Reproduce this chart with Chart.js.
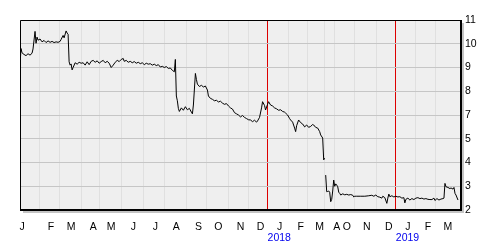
<!DOCTYPE html>
<html>
<head>
<meta charset="utf-8">
<script src="https://cdn.jsdelivr.net/npm/chart.js@4/dist/chart.umd.min.js"></script>
<style>
  html, body { margin: 0; padding: 0; background: #fff; }
  #chart { display: block; }
</style>
</head>
<body>
<canvas id="chart" width="500" height="250"></canvas>
<script>
// months shown on the time axis (Apr-Sep 2018 missing: trading halt)
const monthLabels = ['J','F','M','A','M','J','J','A','S','O','N','D','J','F','M','A','O','N','D','J','F','M'];
// trading days per month on the axis
const monthDays = [19,20,22,18,22,22,21,22,20,22,20,19,21,19,17,10,20,22,19,20,20,25];
const yearLabels = ['2018','2019'];
const yearFirstMonth = [12, 19];
// y tick labels, the axis skips 6
const yTickLabels = ['2','3','4','5','7','8','9','10','11'];

// trading day index and price level (on the axis grid, 2..10)
const days = [0,1,2,4,6,8,10,12,13,15,16,17,18,20,22,24,26,28,30,32,34,36,38,40,41,43,44,46,47,48,
  49,50,51,52,53,55,57,59,61,63,65,67,69,71,73,75,77,79,81,83,85,87,89,91,93,95,97,99,101,103,104,
  106,108,110,112,114,116,118,120,122,124,126,128,130,132,134,136,138,140,142,144,146,148,150,152,154,
  155,156,157,158,159,161,163,165,167,169,171,172,173,175,176,177,179,181,183,185,187,188,190,192,194,
  196,198,200,202,204,206,208,210,212,214,216,218,220,222,224,226,228,230,232,234,236,237,239,241,242,
  244,245,247,248,250,252,254,256,258,260,262,264,265,267,269,270,272,274,275,276,278,280,282,284,286,
  288,290,292,293,295,297,299,300,302,303,304,304.5,305,306,307,308,309,310,311,312,313,314,315,316,317,
  318,319,320,322,324,326,328,330,332,333,334,336,340,344,348,351,353,355,357,359,361,362,364,366,367,
  368,369,371,373,375,377,379,381,383,384,385,387,389,391,393,395,397,399,401,403,405,407,409,411,413,
  414,416,418,420,422,423,424,425,427,429,430,432,433,434,435,437];
const level = [8.10,8.80,8.62,8.55,8.50,8.58,8.52,8.60,8.78,9.52,9.02,9.28,9.15,9.20,9.08,9.14,9.05,9.12,9.06,9.10,9.05,9.08,9.06,9.10,9.18,9.35,9.25,9.54,9.45,9.40,
  8.24,8.10,8.15,7.90,8.00,8.20,8.14,8.22,8.18,8.20,8.10,8.24,8.12,8.26,8.30,8.22,8.28,8.18,8.25,8.30,8.20,8.26,8.18,8.00,8.10,8.22,8.30,8.25,8.34,8.38,8.26,
  8.30,8.22,8.26,8.20,8.25,8.18,8.22,8.16,8.20,8.12,8.18,8.14,8.16,8.10,8.14,8.08,8.12,8.02,8.05,8.00,8.04,7.96,7.98,7.88,7.82,
  8.34,6.80,6.60,6.28,6.15,6.30,6.20,6.35,6.22,6.28,6.12,6.05,6.42,7.75,7.50,7.30,7.20,7.25,7.18,7.22,7.05,6.80,6.70,6.66,6.60,
  6.62,6.55,6.58,6.50,6.45,6.48,6.38,6.30,6.25,6.10,6.05,6.00,5.92,5.98,5.90,5.85,5.80,5.79,5.72,5.78,5.70,5.75,5.90,6.30,6.56,
  6.40,6.21,6.45,6.56,6.42,6.38,6.30,6.26,6.20,6.22,6.15,6.12,6.08,6.00,5.85,5.79,5.70,5.45,5.30,5.55,5.79,5.68,5.62,5.50,5.58,
  5.48,5.52,5.60,5.58,5.48,5.45,5.30,5.16,5.03,4.11,4.18,null,3.47,2.77,2.78,2.80,2.75,2.35,2.45,2.80,3.26,3.00,3.10,3.05,2.98,
  2.75,2.70,2.63,2.68,2.64,2.66,2.63,2.65,2.62,2.55,2.58,2.58,2.58,2.58,2.60,2.62,2.58,2.63,2.56,2.54,2.50,2.58,2.52,2.28,2.50,
  2.67,2.56,2.60,2.55,2.58,2.55,2.56,2.50,2.52,2.30,2.45,2.50,2.42,2.48,2.44,2.50,2.52,2.48,2.50,2.46,2.48,2.45,2.44,2.44,2.50,
  2.40,2.48,2.42,2.46,2.48,2.50,3.12,2.98,2.95,2.90,2.93,2.88,2.95,2.70,2.63,2.42];

// month boundaries in trading days
const monthEdges = [0];
monthDays.forEach(d => monthEdges.push(monthEdges[monthEdges.length - 1] + d));
const totalDays = monthEdges[monthEdges.length - 1];
const yearEdges = yearFirstMonth.map(i => monthEdges[i]);
// labels sit a little right of each month start; first one clipped to the left edge
const monthTicks = monthEdges.slice(0, -1).map((e, i) => i === 0 ? 2 : e + 12);

const font = { family: 'Liberation Sans', size: 10.5 };

const frame = {
    id: 'frame',
    beforeDraw(chart) {
        const { ctx, chartArea: a } = chart;
        ctx.save();
        ctx.fillStyle = '#c4c4c4';
        ctx.fillRect(a.left + 3, a.top + 3, a.right - a.left, a.bottom - a.top);
        ctx.fillStyle = '#efefef';
        ctx.fillRect(a.left, a.top, a.right - a.left, a.bottom - a.top);
        ctx.restore();
    },
    afterDatasetsDraw(chart) {
        const { ctx, chartArea: a } = chart;
        ctx.save();
        ctx.strokeStyle = '#000';
        ctx.lineWidth = 1;
        ctx.beginPath();
        ctx.moveTo(a.left + 0.5, a.bottom);
        ctx.lineTo(a.left + 0.5, a.top + 0.5);
        ctx.lineTo(a.right, a.top + 0.5);
        ctx.stroke();
        ctx.lineWidth = 2;
        ctx.beginPath();
        ctx.moveTo(a.right, a.top);
        ctx.lineTo(a.right, a.bottom);
        ctx.lineTo(a.left, a.bottom);
        ctx.stroke();
        ctx.restore();
    }
};

new Chart(document.getElementById('chart'), {
    type: 'line',
    data: {
        datasets: [{
            data: days.map((d, i) => ({ x: d, y: level[i] })),
            borderColor: '#000',
            borderWidth: 1,
            pointRadius: 0,
            tension: 0,
            spanGaps: false,
            xAxisID: 'x',
            yAxisID: 'y'
        }]
    },
    options: {
        responsive: false,
        animation: false,
        devicePixelRatio: 1,
        layout: { padding: { left: 20, top: 20, right: 0, bottom: 0 } },
        plugins: { legend: { display: false }, tooltip: { enabled: false } },
        scales: {
            x: {
                type: 'linear', position: 'bottom', weight: 0,
                min: 0, max: totalDays,
                afterBuildTicks: s => { s.ticks = monthEdges.map(v => ({ value: v })); },
                afterFit: s => { s.height = 0; },
                ticks: { display: false },
                border: { display: false },
                grid: {
                    drawTicks: false,
                    color: c => yearEdges.includes(c.tick && c.tick.value) ? '#dd0000' : '#e0e0e0'
                }
            },
            xm: {
                type: 'linear', position: 'bottom', weight: 1,
                min: 0, max: totalDays,
                afterBuildTicks: s => { s.ticks = monthTicks.map(v => ({ value: v })); },
                afterFit: s => { s.height = 22; },
                border: { display: false },
                grid: { display: false, drawTicks: false },
                ticks: {
                    autoSkip: false, maxRotation: 0, padding: 11,
                    color: '#000', font: font,
                    callback: (v, i) => monthLabels[i]
                }
            },
            xy: {
                type: 'linear', position: 'bottom', weight: 2,
                min: 0, max: totalDays,
                afterBuildTicks: s => { s.ticks = yearEdges.map(v => ({ value: v })); },
                afterFit: s => { s.height = 18; },
                border: { display: false },
                grid: { display: false, drawTicks: false },
                ticks: {
                    autoSkip: false, maxRotation: 0, padding: 0, align: 'start',
                    color: '#0000ee', font: font,
                    callback: (v, i) => yearLabels[i]
                }
            },
            y: {
                type: 'linear', position: 'right',
                min: 2, max: 10,
                afterFit: s => { s.width = 39; },
                border: { display: false },
                grid: { color: '#c6c6c6', drawTicks: false },
                ticks: {
                    stepSize: 1, padding: 4, color: '#000', font: font,
                    callback: v => yTickLabels[v - 2]
                }
            }
        }
    },
    plugins: [frame]
});
</script>
</body>
</html>
